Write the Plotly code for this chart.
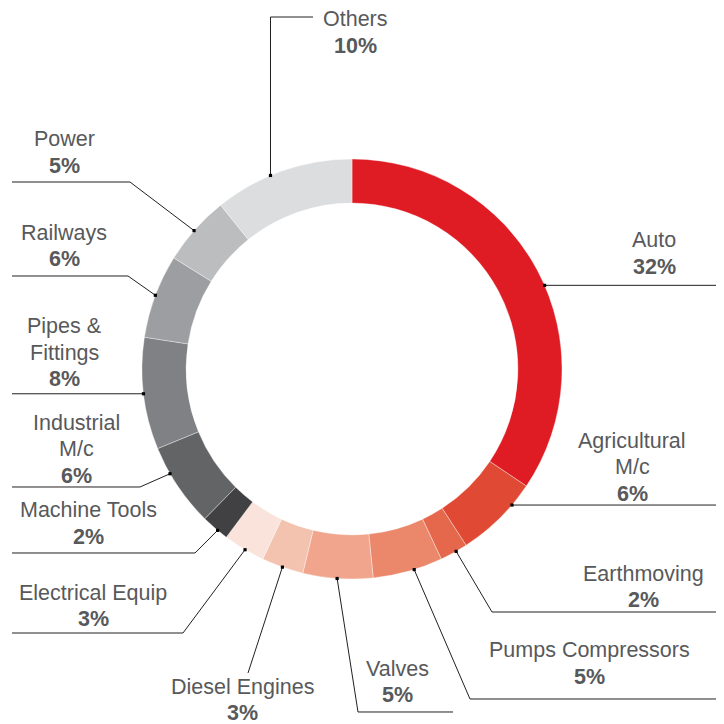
import math
import plotly.graph_objects as go

PAGE = 724
OFF = 8            # browser body margin
W = H = PAGE - OFF

sectors = ["Auto", "Agricultural M/c", "Earthmoving", "Pumps Compressors", "Valves",
           "Diesel Engines", "Electrical Equip", "Machine Tools", "Industrial M/c",
           "Pipes & Fittings", "Railways", "Power", "Others"]
shares = [32, 6, 2, 5, 5, 3, 3, 2, 6, 8, 6, 5, 10]
label_lines = [["Auto"], ["Agricultural", "M/c"], ["Earthmoving"], ["Pumps Compressors"],
               ["Valves"], ["Diesel Engines"], ["Electrical Equip"], ["Machine Tools"],
               ["Industrial", "M/c"], ["Pipes &", "Fittings"], ["Railways"], ["Power"], ["Others"]]
colors = ["#df1b23", "#e04a35", "#e5674c", "#eb886c", "#f0a58c", "#f4c3b0", "#fae3da",
          "#414143", "#636466", "#808184", "#9d9ea1", "#bcbdbf", "#dcdddf"]

# styling of the leader lines / labels (page pixel layout)
anchor_frac = [0.537, 0.28, 0.41, 0.41, 0.51, 0.5, 0.47, 0.39, 0.67, 0.5, 0.51, 0.48, 0.41]
elbows = [None, None, (492, 612), (470, 699), (358, 712), (248, 673), (183, 633),
          (195, 553), (140, 487), None, (128, 276), (130, 182), "up17"]
ends_x = [716, 716, 716, 716, 453, None, 12, 12, 12, 12, 12, 12, 313]
text_pos = [(654, 253.5), (632, 467), (643, 587), (589, 663.5), (398, 682), (242, 700),
            (93, 606), (88, 523.5), (76, 449), (64, 353), (64, 246), (64, 152.5), (355, 32.5)]
LINE_H = 26.5

CX, CY, R = 352, 369, 210

def px(x):
    return (x - OFF) / W

def py(y):
    return 1 - (y - OFF) / H

fig = go.Figure(go.Pie(
    labels=sectors, values=shares, sort=False, direction="clockwise", rotation=0,
    hole=0.79, marker=dict(colors=colors, line=dict(color="rgba(255,255,255,0.6)", width=0.6)),
    textinfo="none", showlegend=False, hoverinfo="label+value",
    domain=dict(x=[px(CX - R), px(CX + R)], y=[py(CY + R), py(CY - R)]),
))

FONT = "Liberation Sans, Arial, sans-serif"
total = sum(shares)
cum = 0
shapes = []
annotations = []
for i, v in enumerate(shares):
    ang = (cum + v * anchor_frac[i]) / total * 2 * math.pi
    cum += v
    dx = CX + R * math.sin(ang)
    dy = CY - R * math.cos(ang)
    pts = [(dx, dy)]
    e = elbows[i]
    if e is None:
        pts.append((ends_x[i], dy))
    elif e == "up17":
        pts.append((dx, 17))
        pts.append((ends_x[i], 17))
    else:
        pts.append(e)
        if ends_x[i] is not None:
            pts.append((ends_x[i], e[1]))
    path = "M " + " L ".join(f"{px(x):.5f},{py(y):.5f}" for x, y in pts)
    shapes.append(dict(type="path", xref="paper", yref="paper", path=path,
                       line=dict(color="#231f20", width=1)))
    shapes.append(dict(type="rect", xref="paper", yref="paper",
                       x0=px(dx - 1.6), x1=px(dx + 1.6), y0=py(dy + 1.6), y1=py(dy - 1.6),
                       fillcolor="#000000", line=dict(width=0)))
    tx, ty = text_pos[i]
    lines = label_lines[i] + [f"<b>{v}%</b>"]
    n = len(lines)
    for k, t in enumerate(lines):
        ly = ty + (k - (n - 1) / 2) * LINE_H
        annotations.append(dict(
            x=px(tx), y=py(ly), xref="paper", yref="paper", xanchor="center", yanchor="middle",
            text=t, showarrow=False, align="center", borderpad=0,
            font=dict(family=FONT, size=21.5, color="#58595b")))

fig.update_layout(
    width=W, height=H, margin=dict(l=0, r=0, t=0, b=0),
    paper_bgcolor="white", plot_bgcolor="white",
    shapes=shapes, annotations=annotations,
)
fig.write_html("out.html")
